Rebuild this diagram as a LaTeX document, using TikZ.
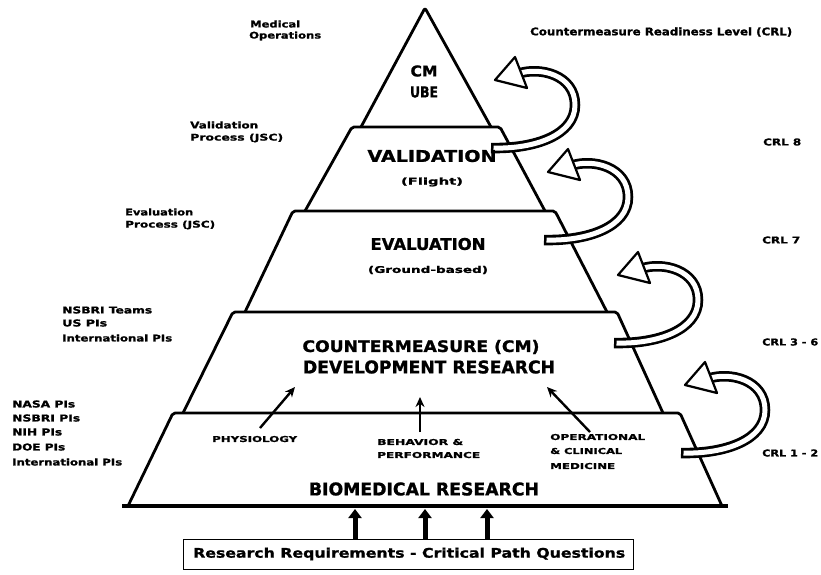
\documentclass[tikz,border=0pt]{standalone}
\usepackage{fontspec}
\setmainfont{DejaVu Sans}[BoldFeatures={FakeBold=1.2}]
\usepackage{graphicx}
\usetikzlibrary{arrows.meta}
\newcommand{\tx}[3]{\resizebox{#1pt}{#2pt}{\bfseries #3}}
\newcommand{\hollowarrow}[2]{%
  \begin{scope}[shift={(#1,#2)}]
    \draw[line width=10.5pt] (22,-6) .. controls (45,-14) and (80,-5) .. (80,25) .. controls (80,55) and (40,69) .. (-4,68);
    \draw[line width=5pt, white, shorten >=2.5pt] (22,-6) .. controls (45,-14) and (80,-5) .. (80,25) .. controls (80,55) and (40,69) .. (-4,68);
    \draw[line width=2.2pt, fill=white, line join=round] (0,0) -- (20,-23) -- (32,8) -- cycle;
  \end{scope}}
\begin{document}
\begin{tikzpicture}[x=1pt,y=-1pt,
  pyr/.style={line width=2.8pt, rounded corners=2pt, line join=round},
  lbl/.style={inner sep=0pt, anchor=west},
  ctr/.style={inner sep=0pt},
  thinarr/.style={line width=2.4pt, -{Stealth[length=10pt,width=9pt]}},
  uparr/.style={line width=5pt, -{Triangle[length=9pt,width=13pt]}},
]
\useasboundingbox (0,0) rectangle (821,574);

% pyramid
\draw[pyr] (361,127) -- (425,8) -- (491,127);
\draw[pyr] (305,211) -- (352,127) -- (500,127) -- (545,211);
\draw[pyr] (245,312) -- (293,211) -- (555,211) -- (607,312);
\draw[pyr] (183,413) -- (233,312) -- (617,312) -- (663,413);
\draw[pyr] (128,506) -- (173,413) -- (680,413) -- (722,506);
\draw[line width=4pt] (122,506) -- (728,506);

% curved hollow arrows
\hollowarrow{495}{80}
\hollowarrow{548}{172}
\hollowarrow{618}{275}
\hollowarrow{685}{385}

% level texts
\node[ctr] (cm) at (424,71) {\tx{27}{11}{CM}};
\node[ctr] (ube) at (424,92) {\tx{28}{11}{UBE}};
\node[ctr] (val) at (432,156) {\tx{129}{12}{VALIDATION}};
\node[ctr] (flt) at (432,182) {\tx{62}{7}{(Flight)}};
\node[ctr] (eva) at (428,244) {\tx{115}{12}{EVALUATION}};
\node[ctr] (gnd) at (428,270) {\tx{120}{7}{(Ground-based)}};
\node[ctr] (cmd1) at (421,347) {\tx{237}{12}{COUNTERMEASURE (CM)}};
\node[ctr] (cmd2) at (429,367) {\tx{252}{13}{DEVELOPMENT RESEARCH}};
\node[lbl] (phy) at (212,439) {\tx{85}{6}{PHYSIOLOGY}};
\node[lbl] (beh1) at (377,442) {\tx{86}{6}{BEHAVIOR \&}};
\node[lbl] (beh2) at (377,455) {\tx{103}{6}{PERFORMANCE}};
\node[lbl] (op1) at (550,437) {\tx{95}{6}{OPERATIONAL}};
\node[lbl] (op2) at (550,451) {\tx{72}{6}{\& CLINICAL}};
\node[lbl] (op3) at (550,466) {\tx{65}{6}{MEDICINE}};
\node[ctr] (bio) at (424,489) {\tx{230}{13}{BIOMEDICAL RESEARCH}};

% thin arrows inside level 4
\coordinate (p1s) at (260,428); \coordinate (p1e) at (295,387);
\coordinate (p2s) at (420,432); \coordinate (p2e) at (420,397);
\coordinate (p3s) at (590,432); \coordinate (p3e) at (547,387);
\draw[thinarr] (p1s) -- (p1e);
\draw[thinarr] (p2s) -- (p2e);
\draw[thinarr] (p3s) -- (p3e);

% bottom box
\node[draw, line width=1pt, minimum width=450pt, minimum height=30pt, inner sep=0pt] (rr) at (408,554) {};
\node[lbl] (rrt) at (193,554) {\tx{432}{10}{Research Requirements - Critical Path Questions}};
\coordinate (u1s) at (355,539); \coordinate (u1e) at (355,509);
\coordinate (u2s) at (425,539); \coordinate (u2e) at (425,509);
\coordinate (u3s) at (487,539); \coordinate (u3e) at (487,509);
\draw[uparr] (u1s) -- (u1e);
\draw[uparr] (u2s) -- (u2e);
\draw[uparr] (u3s) -- (u3e);

% left labels
\node[lbl] (m1) at (250,24) {\tx{50}{7}{Medical}};
\node[lbl] (m2) at (249,36) {\tx{72}{7}{Operations}};
\node[lbl] (v1) at (190,125) {\tx{68}{7}{Validation}};
\node[lbl] (v2) at (190,138) {\tx{93}{7}{Process (JSC)}};
\node[lbl] (e1) at (125,212) {\tx{68}{7}{Evaluation}};
\node[lbl] (e2) at (125,225) {\tx{90}{7}{Process (JSC)}};
\node[lbl] (n1) at (62,310) {\tx{90}{7}{NSBRI Teams}};
\node[lbl] (n2) at (62,323) {\tx{45}{7}{US PIs}};
\node[lbl] (n3) at (62,338) {\tx{110}{7}{International PIs}};
\node[lbl] (b1) at (12,404) {\tx{63}{7}{NASA PIs}};
\node[lbl] (b2) at (12,418) {\tx{68}{7}{NSBRI PIs}};
\node[lbl] (b3) at (12,432) {\tx{50}{7}{NIH PIs}};
\node[lbl] (b4) at (12,447) {\tx{53}{7}{DOE PIs}};
\node[lbl] (b5) at (12,462) {\tx{110}{7}{International PIs}};

% right labels
\node[lbl] (crl) at (530,32) {\tx{262}{8}{Countermeasure Readiness Level (CRL)}};
\node[lbl] (c8) at (763,142) {\tx{38}{7}{CRL 8}};
\node[lbl] (c7) at (762,240) {\tx{38}{7}{CRL 7}};
\node[lbl] (c36) at (762,342) {\tx{56}{7}{CRL 3 - 6}};
\node[lbl] (c12) at (762,453) {\tx{56}{7}{CRL 1 - 2}};
\end{tikzpicture}
\end{document}
